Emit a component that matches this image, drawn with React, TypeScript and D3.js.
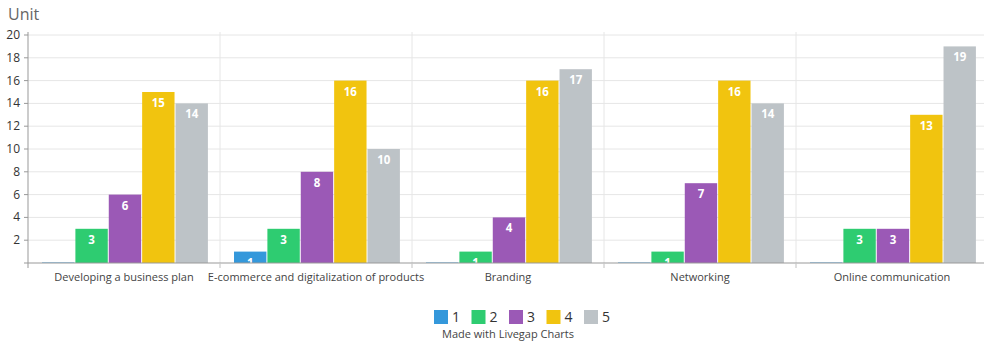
import React from "react";
import * as d3 from "d3";

const categories = [
  "Developing a business plan",
  "E-commerce and digitalization of products",
  "Branding",
  "Networking",
  "Online communication",
];
const seriesNames = ["1", "2", "3", "4", "5"];
const seriesColors = ["#3498db", "#2ecc71", "#9b59b6", "#f1c40f", "#bdc3c7"];
const s1 = [0, 1, 0, 0, 0];
const s2 = [3, 3, 1, 1, 3];
const s3 = [6, 8, 4, 7, 3];
const s4 = [15, 16, 16, 16, 13];
const s5 = [14, 10, 17, 14, 19];
const series = [s1, s2, s3, s4, s5];
const yTicks = [2, 4, 6, 8, 10, 12, 14, 16, 18, 20];

const W = 984;
const H = 342;
const left = 28;
const right = 988;
const top = 35;
const bottom = 263;
const font = "'Open Sans', sans-serif";

export default function App() {
  const x = d3.scaleBand<string>().domain(categories).range([left, right]);
  const bw = x.bandwidth();
  const xi = d3
    .scaleBand<string>()
    .domain(seriesNames)
    .range([bw * 0.073, bw * 0.937])
    .paddingInner(0.03);
  const y = d3.scaleLinear().domain([0, 20]).range([bottom, top]);

  const legendStart = 434;
  const legendStep = 37.5;

  return (
    <svg width={W} height={H} style={{ position: "absolute", left: 0, top: 0, fontFamily: font }}>
      <rect width={W} height={H} fill="#fff" />
      <text x={8} y={20} fontSize={16} fill="#666">Unit</text>
      {yTicks.map((t) => (
        <line key={"g" + t} x1={left} x2={right} y1={y(t)} y2={y(t)} stroke="#e6e6e6" strokeWidth={1} />
      ))}
      {categories.slice(1).map((c) => (
        <line key={"v" + c} x1={x(c)!} x2={x(c)!} y1={top - 3} y2={bottom + 5} stroke="#e6e6e6" />
      ))}
      {categories.map((c, ci) =>
        series.map((s, si) => {
          const v = s[ci];
          const bx = x(c)! + xi(seriesNames[si])!;
          const h = Math.max(bottom - y(v), 1);
          return (
            <g key={c + si}>
              <rect x={bx} y={bottom - h} width={xi.bandwidth()} height={h} fill={seriesColors[si]} opacity={v === 0 ? 0.5 : 1} />
              {v > 0 && (
                <text
                  x={bx + xi.bandwidth() / 2}
                  y={y(v) + 15}
                  textAnchor="middle"
                  fontSize={11.5}
                  fontWeight="bold"
                  fill="#fff"
                >
                  {v}
                </text>
              )}
            </g>
          );
        })
      )}
      <line x1={left} x2={right} y1={bottom} y2={bottom} stroke="#999" />
      <line x1={left} x2={left} y1={top - 3} y2={bottom + 5} stroke="#999" />
      {categories.slice(1).map((c) => (
        <line key={"xt" + c} x1={x(c)!} x2={x(c)!} y1={bottom} y2={bottom + 5} stroke="#ccc" />
      ))}
      {yTicks.map((t) => (
        <g key={"yt" + t}>
          <line x1={left - 4} x2={left} y1={y(t)} y2={y(t)} stroke="#999" />
          <text x={left - 8} y={y(t) + 4} textAnchor="end" fontSize={12} fill="#333">{t}</text>
        </g>
      ))}
      <line x1={left - 4} x2={left} y1={bottom} y2={bottom} stroke="#999" />
      {categories.map((c) => (
        <text key={"cl" + c} x={x(c)! + bw / 2} y={281} textAnchor="middle" fontSize={11} fill="#444">{c}</text>
      ))}
      {seriesNames.map((n, i) => (
        <g key={"lg" + n}>
          <rect x={legendStart + i * legendStep} y={310} width={14} height={14} fill={seriesColors[i]} />
          <text x={legendStart + i * legendStep + 18} y={322} fontSize={14} fill="#333">{n}</text>
        </g>
      ))}
      <text x={508} y={338} textAnchor="middle" fontSize={11} fill="#444">Made with Livegap Charts</text>
    </svg>
  );
}
